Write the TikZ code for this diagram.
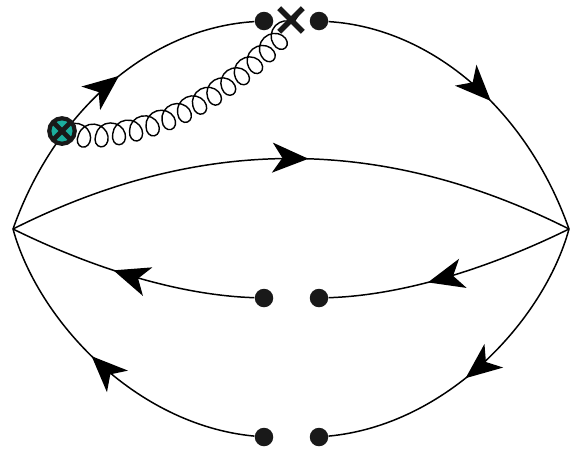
\documentclass[tikz,border=0pt]{standalone}
\usepackage{tikz}
\usetikzlibrary{shapes.misc, arrows.meta, decorations.markings, decorations.pathmorphing}
\definecolor{vertexteal}{RGB}{27, 174, 158}
\tikzset{
  quark/.style={line width=0.85pt, postaction={decorate}, decoration={markings, mark=at position #1 with {\arrow{Stealth[length=0.72cm, width=0.6cm, inset=0.2cm]}}}},
  dotnode/.style={circle, fill=black!90, inner sep=0pt, minimum size=0.37cm},
  crossnode/.style={cross out, draw=black!90, line width=#1, inner sep=0pt, minimum size=0.3cm},
  gluon/.style={line width=0.8pt, decorate, decoration={coil, amplitude=0.22cm, segment length=0.34cm, aspect=0.95}}
}

\begin{document}
\begin{tikzpicture}[x=0.02cm, y=-0.02cm]
  \useasboundingbox (0,0) rectangle (578,454);
  % end points
  \coordinate (left) at (13,229);
  \coordinate (right) at (569,229);
  \node[dotnode] (topL) at (264,21) {};
  \node[dotnode] (topR) at (319,21) {};
  \node[dotnode] (midL) at (264,298) {};
  \node[dotnode] (midR) at (319,298) {};
  \node[dotnode] (botL) at (264,437) {};
  \node[dotnode] (botR) at (319,437) {};
  % lines
  \draw[quark=0.56] (left) .. controls (55,110) and (150,28) .. (topL);
  \draw[quark=0.55] (topR) .. controls (432,28) and (527,110) .. (right);
  \draw[quark=0.53] (left) .. controls (200,135) and (382,135) .. (right);
  \draw[quark=0.60] (right) .. controls (502,262) and (412,295) .. (midR);
  \draw[quark=0.57] (midL) .. controls (170,295) and (80,262) .. (left);
  \draw[quark=0.55] (right) .. controls (544,320) and (447,425) .. (botR);
  \draw[quark=0.55] (botL) .. controls (135,425) and (38,320) .. (left);
  % gluon and operator insertions
  \draw[gluon] (62,131) .. controls (130,147) and (228,105) .. (299,14);
  \node[circle, draw=black!90, fill=vertexteal, line width=2.4pt, inner sep=0pt, minimum size=0.51cm] (vertex) at (62,131) {};
  \node[crossnode=2.8pt, minimum size=0.27cm] (vertexX) at (62,131) {};
  \node[crossnode=3.2pt, minimum size=0.36cm] (mass) at (291,20) {};
\end{tikzpicture}
\end{document}
